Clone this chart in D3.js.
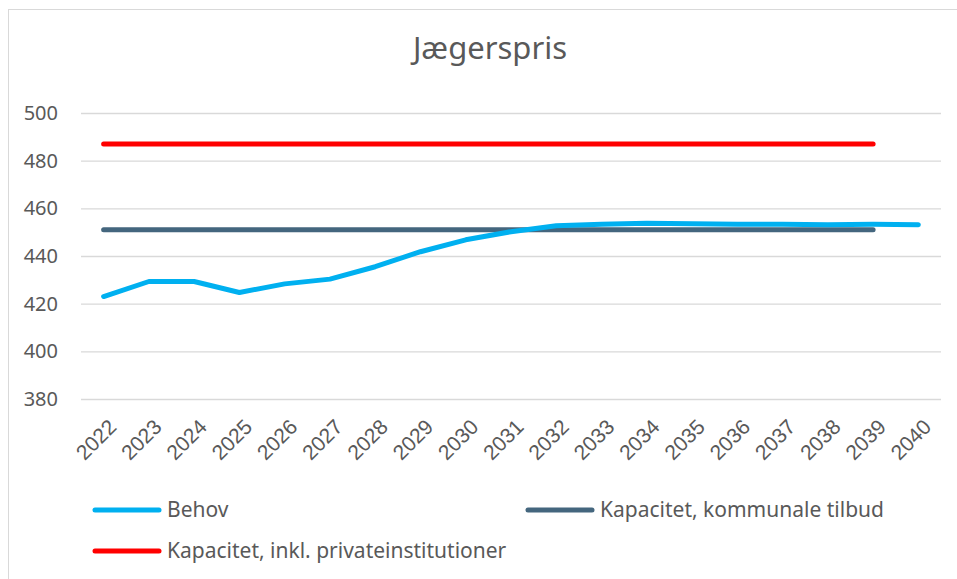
<!DOCTYPE html>
<html>
<head>
<meta charset="utf-8">
<script src="https://cdn.jsdelivr.net/npm/d3@7"></script>
<style>
  body { margin: 0; background: #fff; }
  svg { font-family: "Noto Sans", "Open Sans", sans-serif; }
</style>
</head>
<body>
<svg width="957" height="579"></svg>
<script>
// data
var years = ["2022","2023","2024","2025","2026","2027","2028","2029","2030","2031",
             "2032","2033","2034","2035","2036","2037","2038","2039","2040"];
var behov = [423, 429.3, 429.3, 424.7, 428.3, 430.3, 435.5, 441.8, 446.8, 450.2,
             452.7, 453.3, 453.7, 453.5, 453.3, 453.3, 453.1, 453.3, 453.1];
var kommunale = [451, 451, 451, 451, 451, 451, 451, 451, 451, 451,
                 451, 451, 451, 451, 451, 451, 451, 451];
var privat = [487, 487, 487, 487, 487, 487, 487, 487, 487, 487,
              487, 487, 487, 487, 487, 487, 487, 487];
var yTicks = [380, 400, 420, 440, 460, 480, 500];

var series = [
  {name: "Behov", values: behov, color: "#00b0f0"},
  {name: "Kapacitet, kommunale tilbud", values: kommunale, color: "#44667e"},
  {name: "Kapacitet, inkl. privateinstitutioner", values: privat, color: "#ff0000"}
];

var svg = d3.select("svg");

// chart frame
svg.append("rect")
    .attr("x", 8.5).attr("y", 9.5)
    .attr("width", 960).attr("height", 580)
    .attr("fill", "none").attr("stroke", "#d9d9d9");

var x = d3.scaleBand().domain(years).range([81, 941]);
var y = d3.scaleLinear().domain([380, 500]).range([399, 113]);

svg.append("text")
    .attr("x", 490).attr("y", 59)
    .attr("text-anchor", "middle")
    .attr("font-size", 31)
    .attr("fill", "#595959")
    .text("Jægerspris");

// gridlines
var grid = svg.append("g")
    .attr("transform", "translate(81,0)")
    .call(d3.axisLeft(y).tickValues(yTicks).tickSize(-860).tickFormat(""));
grid.select(".domain").remove();
grid.selectAll("line").attr("stroke", "#d9d9d9").attr("stroke-width", 1.3);

// y labels
svg.append("g").selectAll("text")
    .data(yTicks)
    .enter().append("text")
    .attr("x", 58)
    .attr("y", function(d) { return y(d) + 7; })
    .attr("text-anchor", "end")
    .attr("font-size", 20)
    .attr("fill", "#595959")
    .text(function(d) { return d; });

// x labels
var xAxis = svg.append("g")
    .attr("transform", "translate(0,399)")
    .call(d3.axisBottom(x).tickSize(0));
xAxis.select(".domain").remove();
xAxis.selectAll("text")
    .attr("font-size", 21)
    .attr("fill", "#595959")
    .attr("text-anchor", "end")
    .attr("dy", 0)
    .attr("transform", "translate(12,27) rotate(-45)");

var line = d3.line()
    .x(function(d, i) { return x(years[i]) + x.bandwidth() / 2; })
    .y(function(d) { return y(d); });

svg.append("g").selectAll("path")
    .data(series.slice().reverse())
    .enter().append("path")
    .attr("d", function(s) { return line(s.values); })
    .attr("fill", "none")
    .attr("stroke", function(s) { return s.color; })
    .attr("stroke-width", 5)
    .attr("stroke-linecap", "round")
    .attr("stroke-linejoin", "round");

// legend
var legendPos = [[95, 510], [528, 510], [95, 551]];
var legend = svg.append("g").selectAll("g")
    .data(series)
    .enter().append("g")
    .attr("transform", function(d, i) { return "translate(" + legendPos[i][0] + "," + legendPos[i][1] + ")"; });
legend.append("line")
    .attr("x1", 0).attr("x2", 64)
    .attr("stroke", function(d) { return d.color; })
    .attr("stroke-width", 5)
    .attr("stroke-linecap", "round");
legend.append("text")
    .attr("x", 72).attr("y", 7)
    .attr("font-size", 21)
    .attr("fill", "#595959")
    .text(function(d) { return d.name; });
</script>
</body>
</html>
